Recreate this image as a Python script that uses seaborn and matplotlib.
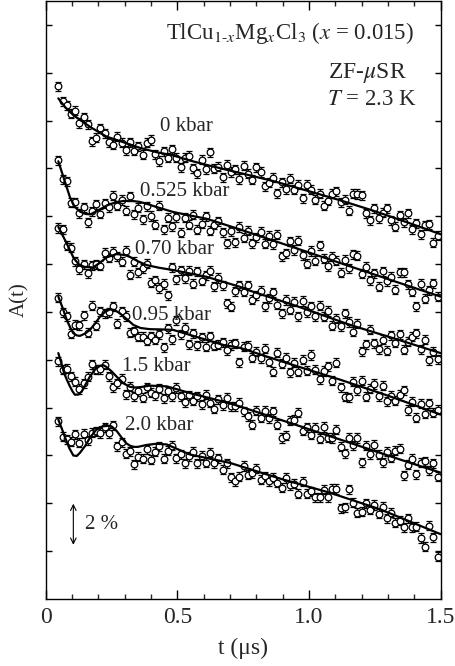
import matplotlib
matplotlib.use('Agg')
import matplotlib.pyplot as plt
import seaborn as sns

# time bins (us)
t = [0.048, 0.064, 0.080, 0.096, 0.112, 0.128, 0.144, 0.160, 0.176, 0.192,
     0.208, 0.224, 0.240, 0.256, 0.272, 0.288, 0.304, 0.320, 0.336, 0.352,
     0.368, 0.384, 0.400, 0.416, 0.432, 0.448, 0.464, 0.480, 0.496, 0.512,
     0.528, 0.544, 0.560, 0.576, 0.592, 0.608, 0.624, 0.640, 0.656, 0.672,
     0.688, 0.704, 0.720, 0.736, 0.752, 0.768, 0.784, 0.800, 0.816, 0.832,
     0.848, 0.864, 0.880, 0.896, 0.912, 0.928, 0.944, 0.960, 0.976, 0.992,
     1.008, 1.024, 1.040, 1.056, 1.072, 1.088, 1.104, 1.120, 1.136, 1.152,
     1.168, 1.184, 1.200, 1.216, 1.232, 1.248, 1.264, 1.280, 1.296, 1.312,
     1.328, 1.344, 1.360, 1.376, 1.392, 1.408, 1.424, 1.440, 1.456, 1.472,
     1.488]

# asymmetry data (%), curves offset vertically
a_0kbar = [21.43, 20.80, 20.65, 20.28, 20.42, 19.90, 20.13, 19.85, 19.14, 19.28,
           19.68, 19.47, 19.10, 18.99, 19.33, 19.07, 18.76, 19.10, 18.74, 18.93,
           18.58, 19.08, 19.19, 18.59, 18.31, 18.72, 18.44, 18.80, 18.45, 18.05,
           18.45, 18.54, 18.00, 17.80, 18.36, 17.97, 18.67, 17.98, 18.08, 17.64,
           18.15, 17.85, 17.96, 17.56, 18.12, 17.78, 17.53, 18.04, 17.85, 17.25,
           17.41, 17.62, 16.97, 17.42, 17.12, 17.57, 17.11, 17.31, 16.76, 17.31,
           17.11, 16.70, 16.95, 16.45, 16.65, 16.95, 17.04, 16.59, 16.69, 16.24,
           16.94, 16.93, 16.88, 16.13, 15.83, 16.33, 15.91, 16.15, 16.34, 15.83,
           15.56, 16.05, 15.74, 16.13, 15.46, 15.70, 15.24, 15.63, 15.67, 14.90,
           15.19]
a_0525kbar = [18.35, 17.55, 17.46, 16.56, 16.58, 16.12, 16.38, 15.74, 16.21, 16.50,
              16.10, 16.55, 16.38, 16.85, 16.44, 16.68, 16.24, 16.84, 16.08, 16.36,
              15.87, 16.42, 16.01, 15.65, 16.45, 15.45, 15.94, 15.59, 15.95, 15.32,
              15.93, 15.64, 16.06, 15.43, 15.69, 16.00, 15.40, 15.65, 15.79, 15.33,
              14.88, 15.37, 14.91, 15.55, 15.10, 15.39, 14.88, 15.12, 15.36, 14.85,
              15.19, 14.84, 15.23, 14.32, 14.46, 14.95, 14.59, 14.98, 14.37, 14.01,
              14.55, 14.14, 14.78, 14.23, 13.92, 14.31, 14.15, 13.64, 14.18, 13.82,
              14.41, 14.35, 13.60, 13.89, 13.33, 13.62, 13.06, 13.70, 13.29, 13.48,
              12.92, 13.66, 13.65, 13.15, 12.84, 12.23, 13.17, 12.56, 12.90, 13.20,
              12.64]
a_070kbar = [15.51, 15.46, 14.76, 14.69, 14.12, 13.78, 13.99, 13.62, 13.96, 14.00,
             13.93, 14.47, 14.26, 14.52, 14.32, 14.10, 14.56, 13.55, 14.10, 13.66,
             13.83, 14.01, 13.22, 13.33, 13.00, 13.17, 12.69, 13.86, 13.37, 13.74,
             13.40, 13.72, 13.18, 13.70, 13.31, 13.53, 13.73, 13.08, 13.42, 13.12,
             12.37, 12.21, 12.86, 13.11, 12.84, 13.12, 12.51, 12.70, 12.89, 12.24,
             12.58, 12.82, 12.31, 11.95, 12.50, 12.09, 12.43, 11.82, 12.46, 12.00,
             12.24, 11.82, 12.26, 11.80, 12.04, 11.43, 11.71, 11.40, 11.94, 11.58,
             11.17, 11.51, 10.36, 10.65, 11.25, 10.69, 10.44, 10.84, 10.38, 11.03,
             10.72, 11.07, 10.42, 10.76, 10.96, 11.10, 10.44, 10.84, 9.98, 10.33,
             10.02]
a_095kbar = [12.59, 11.98, 11.82, 11.09, 11.46, 11.45, 11.87, 11.13, 12.26, 11.43,
             12.03, 11.94, 11.99, 12.24, 11.51, 12.03, 11.83, 11.13, 11.19, 10.97,
             10.97, 10.80, 10.98, 10.83, 11.07, 10.52, 11.31, 10.85, 11.66, 11.06,
             11.35, 10.65, 11.10, 10.60, 10.94, 10.54, 10.99, 10.58, 10.63, 10.73,
             10.40, 10.62, 10.69, 9.90, 10.55, 10.59, 10.08, 10.33, 10.07, 10.46,
             9.91, 9.50, 10.29, 9.83, 10.08, 9.47, 9.87, 9.51, 10.01, 9.55,
             10.20, 9.59, 9.19, 9.53, 9.73, 9.12, 9.87, 8.86, 8.45, 8.44,
             9.08, 8.73, 9.12, 8.46, 8.80, 8.99, 8.48, 8.92, 8.26, 8.50,
             8.29, 8.53, 8.72, 7.90, 8.24, 7.58, 8.17, 7.75, 8.19, 7.78,
             7.91]
a_15kbar = [9.93, 9.59, 9.63, 9.31, 9.09, 8.78, 9.02, 9.29, 9.82, 9.58,
            9.60, 9.79, 9.31, 8.85, 9.02, 9.20, 8.55, 8.87, 8.48, 8.69,
            8.42, 8.85, 8.62, 8.51, 8.80, 8.40, 8.68, 8.48, 8.82, 8.47,
            8.22, 8.52, 8.28, 8.48, 8.14, 8.54, 8.20, 7.95, 8.35, 8.11,
            8.41, 8.06, 8.06, 8.21, 7.85, 7.64, 7.28, 7.88, 7.57, 7.86,
            7.55, 7.84, 7.29, 6.73, 6.82, 7.46, 7.50, 7.79, 7.04, 7.18,
            6.87, 7.16, 6.70, 7.19, 6.74, 6.73, 7.07, 6.36, 6.10, 6.74,
            6.43, 6.73, 5.72, 6.41, 6.05, 6.44, 6.03, 5.72, 6.16, 5.90,
            6.20, 6.29, 5.18, 5.62, 5.87, 5.21, 5.70, 5.75, 5.39, 5.68,
            5.12]
a_20kbar = [7.43, 6.79, 6.67, 6.57, 6.88, 6.54, 6.91, 6.64, 6.95, 7.02,
            6.94, 7.18, 6.94, 7.26, 6.39, 6.56, 6.07, 6.17, 5.63, 5.95,
            5.86, 6.26, 5.83, 6.15, 6.39, 5.87, 6.19, 6.41, 5.89, 6.06,
            5.68, 5.96, 6.16, 5.68, 5.99, 5.70, 6.12, 5.68, 5.89, 5.40,
            5.67, 5.08, 4.92, 5.12, 5.56, 5.20, 5.25, 5.44, 4.99, 5.13,
            4.93, 5.07, 4.87, 4.66, 5.06, 4.76, 4.81, 4.41, 4.91, 4.41,
            4.51, 4.26, 4.26, 4.56, 4.26, 4.61, 4.60, 3.80, 3.84, 4.58,
            4.02, 3.61, 3.65, 4.00, 3.74, 3.93, 3.57, 3.85, 3.38, 3.61,
            3.19, 3.27, 2.99, 3.37, 3.00, 3.03, 2.55, 2.18, 3.06, 2.59,
            1.77]
err = 0.19

# fitted curves
fit_t_0kbar = [0.048, 0.075, 0.107, 0.171, 0.231, 0.294, 0.358, 0.421, 0.485, 0.548,
               0.610, 0.738, 0.865, 0.99, 1.118, 1.245, 1.346, 1.5]
fit_a_0kbar = [20.93, 20.55, 20.21, 19.72, 19.33, 19.10, 18.86, 18.68, 18.54, 18.33,
               18.15, 17.81, 17.47, 17.08, 16.67, 16.23, 15.85, 15.25]
fit_t_0525kbar = [0.048, 0.07, 0.092, 0.11, 0.13, 0.15, 0.17, 0.2, 0.234, 0.265, 0.295,
                  0.33, 0.358, 0.39, 0.42, 0.484, 0.55, 0.61, 0.738, 0.778, 0.95,
                  1.158, 1.35, 1.5]
fit_a_0525kbar = [18.3, 17.55, 16.8, 16.4, 16.2, 16.1, 16.08, 16.25, 16.46, 16.58, 16.64,
                  16.64, 16.6, 16.5, 16.39, 16.18, 16.03, 15.9, 15.45, 15.3, 14.67,
                  13.9, 13.19, 12.64]
fit_t_070kbar = [0.048, 0.08, 0.107, 0.125, 0.145, 0.18, 0.205, 0.231, 0.269, 0.3, 0.32,
                 0.35, 0.383, 0.43, 0.484, 0.611, 0.738, 0.778, 0.95, 1.156, 1.35, 1.5]
fit_a_070kbar = [15.56, 14.86, 14.24, 14.0, 13.89, 13.86, 14.05, 14.28, 14.42, 14.38, 14.3,
                 14.12, 13.96, 13.85, 13.75, 13.47, 13.05, 12.88, 12.26, 11.46, 10.8, 10.28]
fit_t_095kbar = [0.048, 0.065, 0.08, 0.093, 0.105, 0.118, 0.13, 0.15, 0.168, 0.19, 0.206,
                 0.225, 0.244, 0.262, 0.282, 0.31, 0.333, 0.36, 0.396, 0.44, 0.484, 0.548,
                 0.675, 0.738, 0.9, 1.118, 1.3, 1.5]
fit_a_095kbar = [12.64, 12.15, 11.67, 11.35, 11.11, 11.02, 11.0, 11.1, 11.25, 11.55, 11.8,
                 12.0, 12.11, 12.08, 11.94, 11.68, 11.46, 11.33, 11.28, 11.27, 11.25, 11.04,
                 10.62, 10.5, 9.92, 9.17, 8.5, 7.71]
fit_t_15kbar = [0.048, 0.06, 0.07, 0.081, 0.092, 0.102, 0.111, 0.125, 0.137, 0.152, 0.168,
                0.188, 0.206, 0.22, 0.232, 0.25, 0.269, 0.295, 0.32, 0.34, 0.36, 0.396,
                0.46, 0.548, 0.675, 0.738, 0.95, 1.15, 1.346, 1.5]
fit_a_15kbar = [10.28, 9.85, 9.44, 9.15, 8.89, 8.68, 8.54, 8.55, 8.68, 8.98, 9.3,
                9.6, 9.75, 9.77, 9.69, 9.52, 9.3, 9.02, 8.87, 8.84, 8.86, 8.92,
                8.89, 8.61, 8.25, 8.05, 7.28, 6.55, 5.83, 5.28]
fit_t_20kbar = [0.048, 0.062, 0.074, 0.09, 0.105, 0.118, 0.13, 0.15, 0.168, 0.19, 0.205,
                0.219, 0.235, 0.25, 0.27, 0.289, 0.305, 0.32, 0.335, 0.35, 0.383, 0.42,
                0.46, 0.548, 0.70, 0.9, 1.08, 1.27, 1.5]
fit_a_20kbar = [7.5, 7.1, 6.74, 6.3, 6.0, 5.98, 6.11, 6.4, 6.74, 7.05, 7.18,
                7.22, 7.24, 7.22, 7.02, 6.74, 6.52, 6.41, 6.36, 6.36, 6.44, 6.49,
                6.46, 6.04, 5.69, 5.0, 4.44, 3.75, 2.71]

pressures = ['0 kbar', '0.525 kbar', '0.70 kbar', '0.95 kbar', '1.5 kbar', '2.0 kbar']

data = [a_0kbar, a_0525kbar, a_070kbar, a_095kbar, a_15kbar, a_20kbar]
fits = [(fit_t_0kbar, fit_a_0kbar), (fit_t_0525kbar, fit_a_0525kbar),
        (fit_t_070kbar, fit_a_070kbar), (fit_t_095kbar, fit_a_095kbar),
        (fit_t_15kbar, fit_a_15kbar), (fit_t_20kbar, fit_a_20kbar)]
label_pos = [(0.434, 19.74), (0.358, 17.03), (0.339, 14.63),
             (0.326, 11.87), (0.289, 9.74), (0.301, 7.27)]

sns.set_style('ticks')
plt.rcParams['font.family'] = 'serif'
plt.rcParams['font.serif'] = ['Liberation Serif', 'DejaVu Serif']
plt.rcParams['mathtext.fontset'] = 'stix'

fig = plt.figure(figsize=(4.55, 6.66), dpi=100)
ax = fig.add_axes([0.1004, 0.1006, 0.8681, 0.8979])

for ys, (ft, fa) in zip(data, fits):
    ax.errorbar(t, ys, yerr=err, fmt='o', ms=4.8, mfc='white', mec='black',
                mew=0.9, ecolor='black', elinewidth=0.8, capsize=2.3,
                capthick=0.8, zorder=2)
    sns.lineplot(x=ft, y=fa, color='black', linewidth=1.6, ax=ax, zorder=3)

for lab, (lx, ly) in zip(pressures, label_pos):
    ax.text(lx, ly, lab, fontsize=15, ha='left', va='center', zorder=4)

ax.text(1.40, 23.65, r'TlCu$_{1\text{-}x}$Mg$_x$Cl$_3$ ($x$ = 0.015)', fontsize=16.5,
        ha='right', va='center')
ax.text(1.372, 22.0, r'ZF-$\mu$SR', fontsize=17, ha='right', va='center')
ax.text(1.41, 20.9, r'$T$ = 2.3 K', fontsize=16.5, ha='right', va='center')

# 2 % scale arrow
ax.annotate('', xy=(0.105, 2.15), xytext=(0.105, 4.1),
            arrowprops=dict(arrowstyle='<->', color='black', lw=0.8))
ax.text(0.15, 3.1, '2 %', fontsize=15, ha='left', va='center')

ax.set_xlim(0, 1.5)
ax.set_ylim(0, 25)
ax.set_xticks([0, 0.5, 1.0, 1.5])
ax.set_xticklabels(['0', '0.5', '1.0', '1.5'])
ax.set_xticks([0.1, 0.2, 0.3, 0.4, 0.6, 0.7, 0.8, 0.9, 1.1, 1.2, 1.3, 1.4], minor=True)
ax.set_yticks([2, 4, 6, 8, 10, 12, 14, 16, 18, 20, 22, 24])
ax.set_yticklabels([])
ax.tick_params(axis='both', which='major', direction='in', top=True, right=True,
               labelsize=17, width=1.0, color='black', pad=6)
ax.tick_params(axis='x', which='major', length=6.5)
ax.tick_params(axis='y', which='major', length=4.5)
ax.tick_params(axis='x', which='minor', direction='in', top=True, length=3.4, width=1.0)
for s in ax.spines.values():
    s.set_linewidth(1.0)
    s.set_color('black')

ax.set_xlabel('t (μs)', fontsize=17, labelpad=7)
ax.set_ylabel('A(t)', fontsize=15, labelpad=6)

fig.savefig('out.png', dpi=100)
